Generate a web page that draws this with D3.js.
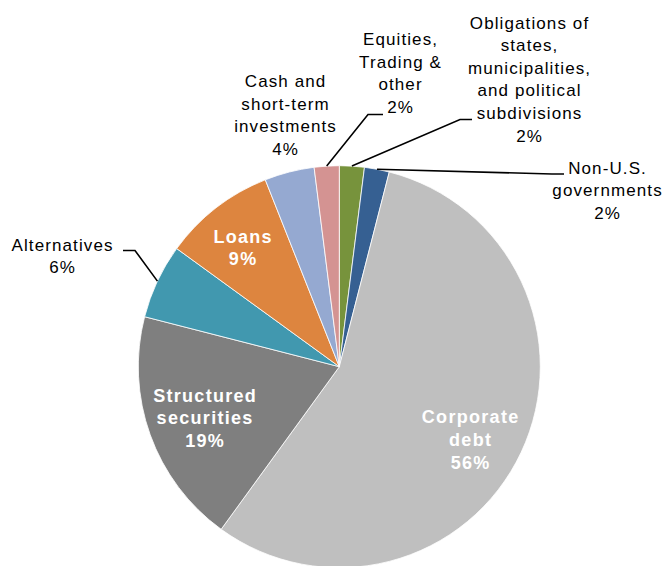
<!DOCTYPE html>
<html>
<head>
<meta charset="utf-8">
<script src="https://cdn.jsdelivr.net/npm/d3@7/dist/d3.min.js"></script>
<style>
  html, body { margin: 0; padding: 0; background: #fff; }
  svg { display: block; }
  text { font-family: "Liberation Sans", Arial, sans-serif; }
</style>
</head>
<body>
<svg id="chart" width="667" height="566"></svg>
<script>
// Portfolio composition, clockwise from 12 o'clock
const categories = [
  "Obligations of\nstates,\nmunicipalities,\nand political\nsubdivisions",
  "Non-U.S.\ngovernments",
  "Corporate\ndebt",
  "Structured\nsecurities",
  "Alternatives",
  "Loans",
  "Cash and\nshort-term\ninvestments",
  "Equities,\nTrading &\nother"
];
const shares = [2, 2, 56, 19, 6, 9, 4, 2];
const colors = ["#77933C", "#366092", "#BFBFBF", "#7F7F7F", "#4198AF", "#DD853F", "#95A9D1", "#D49392"];

// Label placement: anchor (centre x, first baseline), inside/outside, leader elbow + end
const labelLayout = [
  { x: 529, y: 28.5, lh: 22.6, inside: false, leader: [[460, 119.5], [472, 119.5]] },
  { x: 607, y: 174,  lh: 22.3, inside: false, leader: [[552, 174], [564, 174]] },
  { x: 470, y: 422.5, lh: 23,  inside: true },
  { x: 204.5, y: 401.5, lh: 22.6, inside: true },
  { x: 62,  y: 251,  lh: 22,   inside: false, leader: [[135, 250.5], [123, 250.5]] },
  { x: 242.5, y: 242.5, lh: 22.5, inside: true },
  { x: 285, y: 87,   lh: 22.5, inside: false },
  { x: 400, y: 45,   lh: 22.6, inside: false, leader: [[368, 114.5], [383, 114.5]] }
];

const cx = 339.3, cy = 366.7, radius = 201;
const svg = d3.select("#chart");
const total = d3.sum(shares);
const pct = d3.format(".0%");

const pie = d3.pie().sort(null).value(d => d);
const arcs = pie(shares);
const arc = d3.arc().innerRadius(0).outerRadius(radius);
const edge = d3.arc().innerRadius(radius).outerRadius(radius);

const g = svg.append("g").attr("transform", `translate(${cx},${cy})`);

g.selectAll("path.slice")
  .data(arcs)
  .join("path")
  .attr("class", "slice")
  .attr("d", arc)
  .attr("fill", (d, i) => colors[i])
  .attr("stroke", "#fff")
  .attr("stroke-width", 0.8);

// Leader lines from the slice rim to the outside labels
arcs.forEach((d, i) => {
  const L = labelLayout[i];
  if (!L.leader) return;
  const [sx, sy] = edge.centroid(d);
  const pts = [[cx + sx, cy + sy]].concat(L.leader);
  svg.append("path")
    .attr("d", d3.line()(pts))
    .attr("fill", "none")
    .attr("stroke", "#000")
    .attr("stroke-width", 1.6);
});

// Category + percentage labels
arcs.forEach((d, i) => {
  const L = labelLayout[i];
  const lines = categories[i].split("\n").concat([pct(shares[i] / total)]);
  const t = svg.append("text")
    .attr("text-anchor", "middle")
    .attr("fill", L.inside ? "#fff" : "#000")
    .attr("font-size", L.inside ? 18 : 17)
    .attr("font-weight", L.inside ? "bold" : "normal")
    .style("letter-spacing", L.inside ? "1.3px" : "1.1px");
  lines.forEach((s, k) => {
    t.append("tspan")
      .attr("x", L.x + (L.inside ? 0.65 : 0.55))
      .attr("y", L.y + k * L.lh)
      .text(s);
  });
});
</script>
</body>
</html>
